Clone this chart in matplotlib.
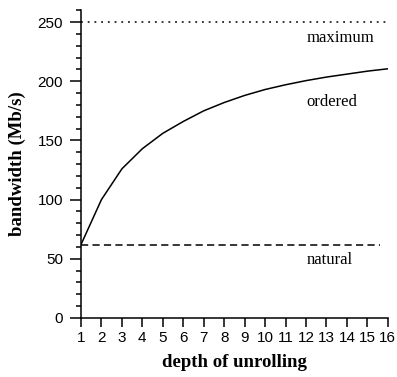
import matplotlib
matplotlib.use("Agg")
import matplotlib.pyplot as plt
from matplotlib.ticker import MultipleLocator

depth = [1, 2, 3, 4, 5, 6, 7, 8, 9, 10, 11, 12, 13, 14, 15, 16]
ordered = [62, 100, 126, 143, 156, 166, 175, 182, 188, 193, 197, 200.5, 203.5, 206, 208.5, 210.5]
natural = 62
maximum = 250

fig = plt.figure(figsize=(3.97, 3.77), dpi=100)
ax = fig.add_axes([0.204, 0.1565, 0.773, 0.8165])

ax.plot(depth, ordered, color="black", lw=1.1)
ax.plot([depth[0], 15.6], [natural, natural], color="black", lw=1.1, dashes=(4.7, 2.8))
ax.plot([depth[0], depth[-1]], [maximum, maximum], color="black", lw=1.1, dashes=(1.2, 3.2))

ax.set_xlim(1, 16)
ax.set_ylim(0, 260)
ax.set_xticks(depth)
ax.yaxis.set_minor_locator(MultipleLocator(10))
ax.set_yticks([0, 50, 100, 150, 200, 250])

for s in ["top", "right"]:
    ax.spines[s].set_visible(False)
for s in ["left", "bottom"]:
    ax.spines[s].set_linewidth(1.1)

ax.tick_params(axis="y", which="major", direction="out", length=8, width=1.1,
               labelsize=11, pad=5)
ax.tick_params(axis="x", which="major", direction="out", length=6.5, width=1.1,
               labelsize=11, pad=3)
ax.tick_params(axis="y", which="minor", direction="out", length=3.8, width=1.1)
for lab in ax.get_xticklabels() + ax.get_yticklabels():
    lab.set_fontfamily("Liberation Sans")

ax.set_xlabel("depth of unrolling", fontfamily="Liberation Serif", fontweight="bold",
              fontsize=13.5, labelpad=6)
ax.set_ylabel("bandwidth (Mb/s)", fontfamily="Liberation Serif", fontweight="bold",
              fontsize=13.5, labelpad=8)

ax.text(12.04, 233, "maximum", fontfamily="Liberation Serif", fontsize=12, va="baseline", ha="left")
ax.text(12.04, 179, "ordered", fontfamily="Liberation Serif", fontsize=12, va="baseline", ha="left")
ax.text(12.04, 45.6, "natural", fontfamily="Liberation Serif", fontsize=12, va="baseline", ha="left")

fig.savefig("out.png", dpi=100)
